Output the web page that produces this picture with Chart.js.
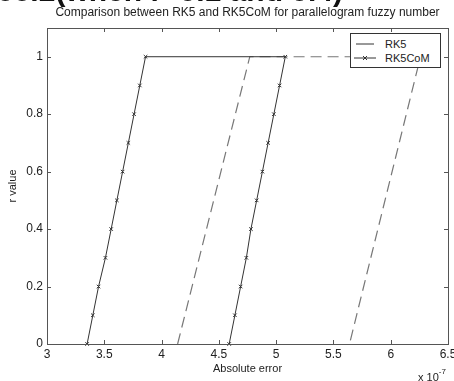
<!DOCTYPE html>
<html>
<head>
<meta charset="utf-8">
<script src="https://cdn.jsdelivr.net/npm/chart.js@4/dist/chart.umd.min.js"></script>
<style>
  html, body { margin: 0; padding: 0; background: #fff; }
  #wrap { position: relative; width: 454px; height: 381px; overflow: hidden; font-family: 'Liberation Sans', Arial, sans-serif; }
  #chart { position: absolute; left: 0; top: 0; }
  .cut { position: absolute; left: -3px; top: -26px; font-weight: bold; font-size: 30px; line-height: 34px; color: #111; white-space: nowrap; }
  .legend { position: absolute; left: 350px; top: 33px; width: 91px; height: 35px; box-sizing: border-box;
            border: 1px solid #333; background: #fff; font-size: 11px; color: #222; }
  .legend svg { position: absolute; left: 3px; }
  .legend span { position: absolute; left: 34px; line-height: 12px; }
  .expo { position: absolute; left: 418px; top: 369px; font-size: 11px; color: #222; white-space: nowrap; }
  .expo sup { font-size: 8px; position: relative; top: -2px; }
</style>
</head>
<body>
<div id="wrap">
  <canvas id="chart" width="454" height="381"></canvas>
  <div class="cut">55.2(when r=0.1 and 0.4)</div>
  <div class="legend">
    <svg width="26" height="14" style="top:3px"><line x1="2" y1="7" x2="20" y2="7" stroke="#333" stroke-width="1"/></svg>
    <span style="top:4px">RK5</span>
    <svg width="26" height="14" style="top:17px"><line x1="0" y1="7" x2="22" y2="7" stroke="#333" stroke-width="1"/>
      <path d="M9,5 L13,9 M13,5 L9,9" stroke="#333" stroke-width="1"/></svg>
    <span style="top:18px">RK5CoM</span>
  </div>
  <div class="expo">x 10<sup>-7</sup></div>
</div>
<script>
// values in units of 1e-7
const rLevels = [0, 0.1, 0.2, 0.3, 0.4, 0.5, 0.6, 0.7, 0.8, 0.9, 1];
const comLeft = [3.35, 3.40, 3.45, 3.51, 3.56, 3.61, 3.66, 3.71, 3.76, 3.81, 3.86];
const comRight = [4.59, 4.64, 4.69, 4.74, 4.78, 4.83, 4.88, 4.93, 4.98, 5.03, 5.08];
const rk5X = [4.14, 4.77, 6.26, 5.64];
const rk5R = [0, 1, 1, 0];
const xTicks = [3, 3.5, 4, 4.5, 5, 5.5, 6, 6.5];
const yTicks = [0, 0.2, 0.4, 0.6, 0.8, 1];

const ink = '#222';
const plain = v => String(Math.round(v * 10) / 10);

// left side up, across the top, right side down
const comPoints = rLevels.map((r, i) => ({ x: comLeft[i], y: r }))
  .concat(rLevels.slice().reverse().map((r, i) => ({ x: comRight[rLevels.length - 1 - i], y: r })));
const rk5Points = rk5X.map((x, i) => ({ x, y: rk5R[i] }));

// MATLAB style box with inward ticks on all four sides
const boxPlugin = {
  id: 'matlabBox',
  afterDraw(chart) {
    const { ctx, chartArea: a, scales } = chart;
    ctx.save();
    ctx.strokeStyle = '#555';
    ctx.lineWidth = 1;
    ctx.strokeRect(Math.round(a.left) + 0.5, Math.round(a.top) + 0.5,
      Math.round(a.right - a.left), Math.round(a.bottom - a.top));
    const t = 4;
    ctx.beginPath();
    xTicks.forEach(v => {
      const px = Math.round(scales.x.getPixelForValue(v)) + 0.5;
      ctx.moveTo(px, a.bottom); ctx.lineTo(px, a.bottom - t);
      ctx.moveTo(px, a.top); ctx.lineTo(px, a.top + t);
    });
    yTicks.forEach(v => {
      const py = Math.round(scales.y.getPixelForValue(v)) + 0.5;
      ctx.moveTo(a.left, py); ctx.lineTo(a.left + t, py);
      ctx.moveTo(a.right, py); ctx.lineTo(a.right - t, py);
    });
    ctx.stroke();
    ctx.restore();
  }
};

new Chart(document.getElementById('chart'), {
  type: 'scatter',
  data: {
    datasets: [
      {
        label: 'RK5CoM', data: comPoints, showLine: true,
        borderColor: '#333', borderWidth: 1,
        pointStyle: 'crossRot', pointRadius: 2.5, pointBorderColor: '#333', pointBorderWidth: 1,
        clip: 4
      },
      {
        label: 'RK5', data: rk5Points, showLine: true,
        borderColor: '#777', borderWidth: 1.2, borderDash: [11, 6],
        pointRadius: 0, clip: 2
      }
    ]
  },
  options: {
    responsive: false,
    animation: false,
    layout: { padding: { left: 0, right: 6, top: 0, bottom: 0 } },
    plugins: {
      legend: { display: false },
      tooltip: { enabled: false },
      title: {
        display: true, fullSize: false,
        text: 'Comparison between RK5 and RK5CoM for parallelogram fuzzy number',
        color: ink, font: { family: "'Liberation Sans', Arial", size: 12, weight: 'normal' },
        padding: { top: 5, bottom: 8.6 }
      }
    },
    scales: {
      x: {
        type: 'linear', min: 3, max: 6.5,
        afterBuildTicks: s => { s.ticks = xTicks.map(v => ({ value: v })); },
        afterFit: s => { s.height = 37; s.paddingLeft = 0; s.paddingRight = 0; },
        grid: { display: false, drawTicks: false },
        border: { display: false },
        ticks: { color: ink, padding: 3, maxRotation: 0, callback: plain,
                 font: { family: "'Liberation Sans', Arial", size: 12 } },
        title: { display: true, text: 'Absolute error', color: ink,
                 font: { family: "'Liberation Sans', Arial", size: 11 }, padding: { top: 0, bottom: 5 } }
      },
      y: {
        type: 'linear', min: 0, max: 1.1,
        afterBuildTicks: s => { s.ticks = yTicks.map(v => ({ value: v })); },
        afterFit: s => { s.width = 47; s.paddingTop = 0; s.paddingBottom = 0; },
        grid: { display: false, drawTicks: false },
        border: { display: false },
        ticks: { color: ink, padding: 4, callback: plain,
                 font: { family: "'Liberation Sans', Arial", size: 12 } },
        title: { display: true, text: 'r value', color: ink,
                 font: { family: "'Liberation Sans', Arial", size: 11 }, padding: { top: 6, bottom: 0 } }
      }
    }
  },
  plugins: [boxPlugin]
});
</script>
</body>
</html>
